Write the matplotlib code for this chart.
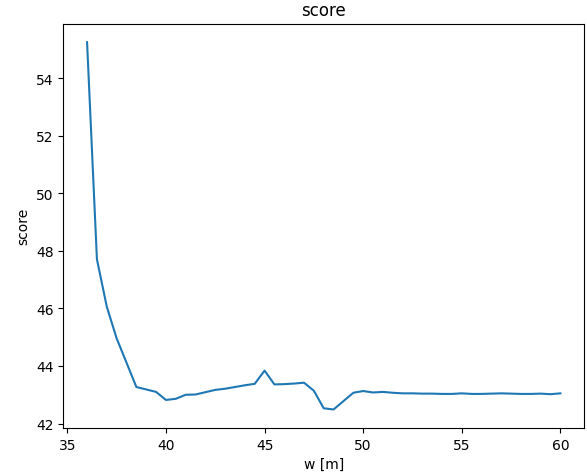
import numpy as np
import matplotlib
matplotlib.use("Agg")
import matplotlib.pyplot as plt

# ширина w [m] и значение score
w = [36.0, 36.5, 37.0, 37.5, 38.5, 39.5, 40.0, 40.5, 41.0, 41.5, 42.0, 42.5,
     43.0, 43.5, 44.0, 44.5, 45.0, 45.5, 46.0, 46.5, 47.0, 47.5, 48.0, 48.5,
     49.5, 50.0, 50.5, 51.0, 51.5, 52.0, 52.5, 53.0, 53.5, 54.0, 54.5, 55.0,
     55.5, 56.0, 56.5, 57.0, 57.5, 58.0, 58.5, 59.0, 59.5, 60.0]
score = [55.25, 47.71, 46.06, 44.96, 43.27, 43.10, 42.82, 42.86, 43.00, 43.01,
         43.09, 43.17, 43.21, 43.27, 43.33, 43.38, 43.84, 43.36, 43.37, 43.39,
         43.42, 43.14, 42.53, 42.49, 43.07, 43.13, 43.08, 43.10, 43.07, 43.05,
         43.05, 43.04, 43.04, 43.03, 43.03, 43.05, 43.03, 43.03, 43.04, 43.05,
         43.04, 43.03, 43.03, 43.04, 43.02, 43.05]

fig = plt.figure(figsize=(5.87, 4.77), dpi=100)
ax = fig.add_axes([0.108, 0.101, 0.887, 0.847])
ax.plot(w, score)
ax.set_title('score')
ax.set_xlabel('w [m]')
ax.set_ylabel('score')
fig.savefig('out.png', dpi=100)
